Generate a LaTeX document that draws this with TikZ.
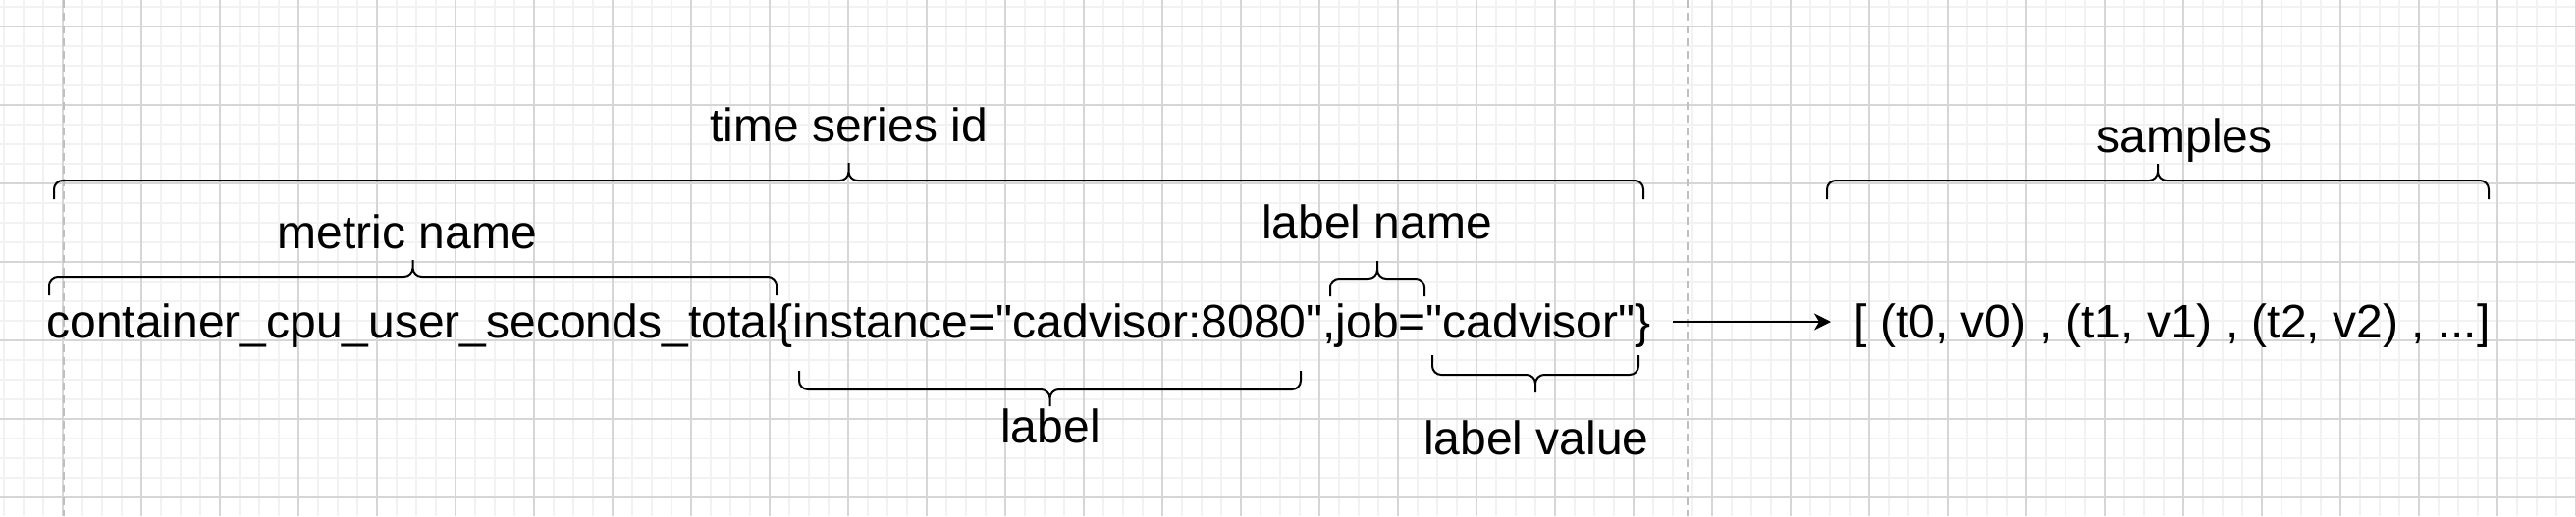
\documentclass[tikz,border=0pt]{standalone}
\usepackage{fontspec}
\setmainfont{Liberation Sans}[Ligatures=TeXOff]
\usetikzlibrary{arrows.meta}

\tikzset{
  gridminor/.style={draw=black!5, line width=0.7pt},
  gridmajor/.style={draw=black!16, line width=0.7pt},
  pageedge/.style={draw=black!25, line width=1pt, dash pattern=on 4pt off 2.5pt},
  txt/.style={inner sep=0pt, font=\fontsize{24}{29}\selectfont},
  bracket/.style={line width=1pt, rounded corners=4.5pt},
  flow/.style={line width=1pt, -{Stealth[length=8.5pt, width=8.5pt, inset=2.5pt]}}
}

\begin{document}
\begin{tikzpicture}[x=0.5pt, y=-0.5pt]
    \useasboundingbox (0,0) rectangle (2624,526);
    % background grid
    \foreach \gx in {4,24,...,2624} \draw [gridminor] (\gx,0) -- (\gx,526);
    \foreach \gy in {7,27,...,526} \draw [gridminor] (0,\gy) -- (2624,\gy);
    \foreach \gx in {64,144,...,2624} \draw [gridmajor] (\gx,0) -- (\gx,526);
    \foreach \gy in {27,107,...,526} \draw [gridmajor] (0,\gy) -- (2624,\gy);
    \draw [pageedge] (65,0) -- (65,526);
    \draw [pageedge] (1719,0) -- (1719,526);

    % the series and its samples
    \node [txt, anchor=base west] (idtext) at (47,344)
        {container\_cpu\_user\_seconds\_total\{instance="cadvisor:8080",job="cadvisor"\}};
    \node [txt, anchor=base west] (samptext) at (1888,344)
        {[ (t0, v0) , (t1, v1) , (t2, v2) , ...]};
    \draw [flow] ([shift={(11pt,8pt)}]idtext.base east) -- ([shift={(-11.5pt,8pt)}]samptext.base west);

    % braces over the id
    \draw [bracket] (55,203) -- (55,184) -- (864.5,184) -- (864.5,166)
                    (1674,203) -- (1674,184) -- (864.5,184) -- (864.5,166);
    \node [txt, anchor=base] (tsid) at (864.5,144) {time series id};
    \draw [bracket] (50,301) -- (50,282) -- (420.5,282) -- (420.5,265)
                    (791,301) -- (791,282) -- (420.5,282) -- (420.5,265);
    \node [txt, anchor=base] (metric) at (415,253) {metric name};
    \draw [bracket] (1355,302) -- (1355,284) -- (1403,284) -- (1403,266)
                    (1451,302) -- (1451,284) -- (1403,284) -- (1403,266);
    \node [txt, anchor=base] (lname) at (1402.5,243) {label name};
    % braces under the id
    \draw [bracket] (814,378) -- (814,397) -- (1069.5,397) -- (1069.5,414)
                    (1325,378) -- (1325,397) -- (1069.5,397) -- (1069.5,414);
    \node [txt, anchor=base] (lbl) at (1070,451) {label};
    \draw [bracket] (1459,362) -- (1459,382) -- (1564,382) -- (1564,400)
                    (1669,362) -- (1669,382) -- (1564,382) -- (1564,400);
    \node [txt, anchor=base] (lvalue) at (1565,463) {label value};
    % brace over the samples
    \draw [bracket] (1861,203) -- (1861,184) -- (2198,184) -- (2198,167)
                    (2535,203) -- (2535,184) -- (2198,184) -- (2198,167);
    \node [txt, anchor=base] (smp) at (2225,155) {samples};
\end{tikzpicture}
\end{document}
